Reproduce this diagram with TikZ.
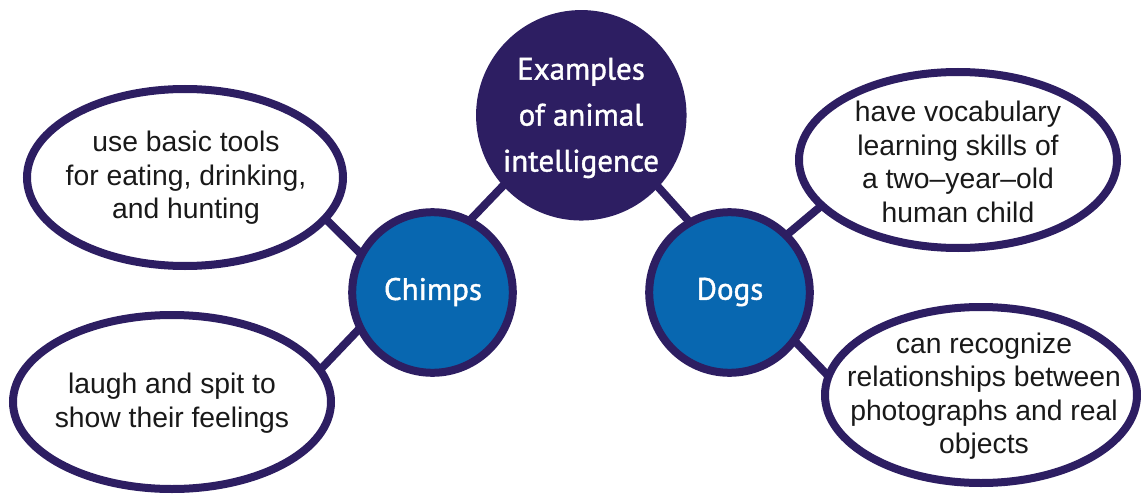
\documentclass[tikz,border=0pt]{standalone}
\usepackage{fontspec}
\setmainfont{Liberation Sans}
\newfontfamily\headfont[FakeBold=1.3]{PT Sans}
\usetikzlibrary{shapes.geometric,backgrounds}
\definecolor{navy}{RGB}{45,30,98}
\definecolor{midblue}{RGB}{8,103,176}
\begin{document}
\begin{tikzpicture}[x=1pt,y=-1pt,
  bigcirc/.style={circle,draw=navy,fill=navy,line width=7.5pt,minimum size=203pt,inner sep=0pt},
  subcirc/.style={circle,draw=navy,fill=midblue,line width=8pt,minimum size=160.6pt,inner sep=0pt},
  oval/.style={ellipse,draw=navy,fill=white,line width=8pt,inner sep=0pt},
  headtxt/.style={text=white,align=center,font=\headfont\fontsize{31}{46}\selectfont},
  ovaltxt/.style={text=black!90,align=center,font=\fontsize{28.3}{33.5}\selectfont},
  link/.style={draw=navy,line width=8pt,shorten <=-8pt,shorten >=-8pt}]
\useasboundingbox (0,0) rectangle (1141,495);
\node[bigcirc] (main) at (581.3,115.3) {};
\node[headtxt] (maint) at (581,118) {Examples\\of animal\\intelligence};
\node[subcirc] (chimps) at (432.5,292.5) {};
\node[headtxt] (chimpst) at (433,292) {Chimps};
\node[subcirc] (dogs) at (729.5,292.5) {};
\node[headtxt] (dogst) at (730,292) {Dogs};
\node[oval,minimum width=316pt,minimum height=177pt] (tl) at (185,177.5) {};
\node[ovaltxt] (tlt) at (186,178) {use basic tools\\for eating, drinking,\\and hunting};
\node[oval,minimum width=318pt,minimum height=174pt] (bl) at (172,402) {};
\node[ovaltxt] (blt) at (172,403) {laugh and spit to\\show their feelings};
\node[oval,minimum width=318pt,minimum height=176pt] (tr) at (958,160) {};
\node[ovaltxt] (trt) at (958,162) {have vocabulary\\learning skills of\\a two–year–old\\human child};
\node[oval,minimum width=312pt,minimum height=176pt] (br) at (981,395) {};
\node[ovaltxt] (brt) at (984,396) {can recognize\\relationships between\\photographs and real\\objects};
\begin{pgfonlayer}{background}
\draw[link] (main.222.6) -- (chimps.62.4);
\draw[link] (main.-43.5) -- (dogs.120);
\draw[link] (chimps.151) -- (tl.-17);
\draw[link] (chimps.207.5) -- (bl.13);
\draw[link] (dogs.45) -- (tr.199);
\draw[link] (dogs.-37) -- (br.172);
\end{pgfonlayer}
\end{tikzpicture}
\end{document}
